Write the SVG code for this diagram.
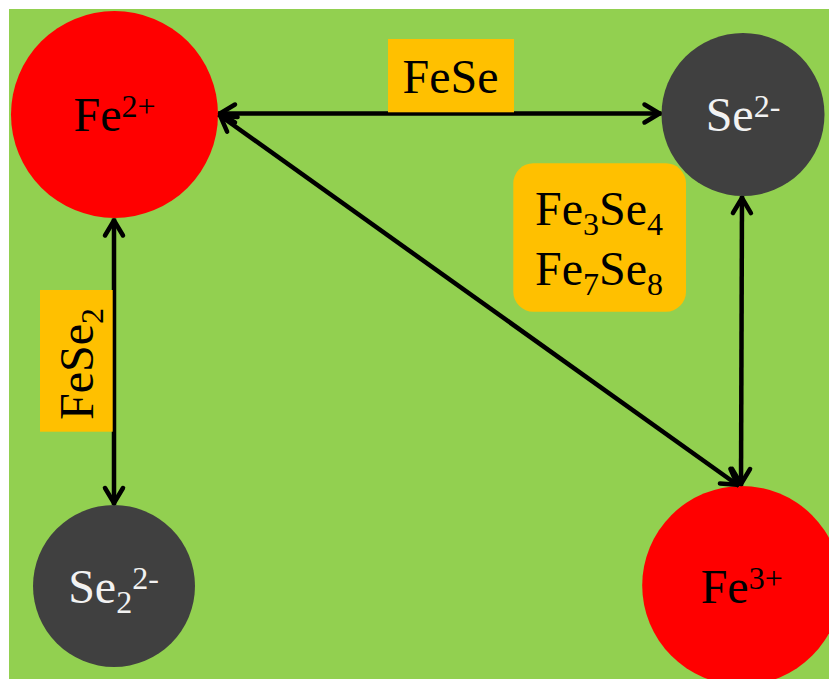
<svg xmlns="http://www.w3.org/2000/svg" width="829" height="679" viewBox="0 0 829 679">
  <style>
    .ion-fe { fill: #FF0000; }
    .ion-se { fill: #404040; }
    .tag { fill: #FFC000; }
    .txt { font-family: "Liberation Serif", "Times New Roman", serif; font-size: 48px; text-anchor: middle; }
    .dark { fill: #000000; }
    .light { fill: #F2F2F2; }
    .small { font-size: 32px; }
    .link { stroke: #000000; stroke-width: 4.5; fill: none; marker-start: url(#chev); marker-end: url(#chev); }
  </style>
  <defs>
    <marker id="chev" markerUnits="userSpaceOnUse" markerWidth="40" markerHeight="40" refX="2" refY="0" viewBox="-20 -20 40 40" orient="auto-start-reverse" overflow="visible">
      <path d="M -15 -9 L 0 0 L -15 9" fill="none" stroke="#000000" stroke-width="4.5" stroke-linecap="round" stroke-linejoin="round"/>
    </marker>
  </defs>

  <!-- backdrop -->
  <rect x="9" y="9" width="820" height="670" fill="#92D050"/>

  <!-- ions -->
  <g id="fe2">
    <circle class="ion-fe" cx="114.5" cy="114.5" r="103.5"/>
    <text class="txt dark" x="114.5" y="131">Fe<tspan class="small" dy="-14">2+</tspan></text>
  </g>
  <g id="se2">
    <circle class="ion-se" cx="743" cy="114.5" r="81.5"/>
    <text class="txt light" x="743" y="131">Se<tspan class="small" dy="-14">2-</tspan></text>
  </g>
  <g id="se2-2">
    <circle class="ion-se" cx="114" cy="586" r="81"/>
    <text class="txt light" x="113.5" y="603">Se<tspan class="small" dy="10">2</tspan><tspan class="small" dy="-24">2-</tspan></text>
  </g>
  <g id="fe3">
    <circle class="ion-fe" cx="741.7" cy="585.5" r="99.5"/>
    <text class="txt dark" x="741.7" y="602.5">Fe<tspan class="small" dy="-14">3+</tspan></text>
  </g>

  <!-- connectors -->
  <g id="connectors">
    <line class="link" x1="218" y1="113.5" x2="661.5" y2="113.5"/>
    <line class="link" x1="114" y1="218.5" x2="114" y2="505"/>
    <line class="link" x1="742" y1="196" x2="741" y2="486"/>
    <line class="link" x1="218.5" y1="114.5" x2="739" y2="486"/>
  </g>

  <!-- phase labels -->
  <g id="label-fese">
    <rect class="tag" x="388" y="39" width="126" height="73.3"/>
    <text class="txt dark" x="450.5" y="93.3">FeSe</text>
  </g>
  <g id="label-fese2">
    <rect class="tag" x="40" y="290" width="72.7" height="141.7"/>
    <text class="txt dark" transform="translate(93,364) rotate(-90)" x="0" y="0">FeSe<tspan class="small" dy="10">2</tspan></text>
  </g>
  <g id="label-fe3se4">
    <rect class="tag" x="513.3" y="163.3" width="172.7" height="148.4" rx="20" ry="20"/>
    <text class="txt dark" x="599" y="225">Fe<tspan class="small" dy="10">3</tspan><tspan dy="-10">Se</tspan><tspan class="small" dy="10">4</tspan></text>
    <text class="txt dark" x="599" y="285">Fe<tspan class="small" dy="10">7</tspan><tspan dy="-10">Se</tspan><tspan class="small" dy="10">8</tspan></text>
  </g>
</svg>
